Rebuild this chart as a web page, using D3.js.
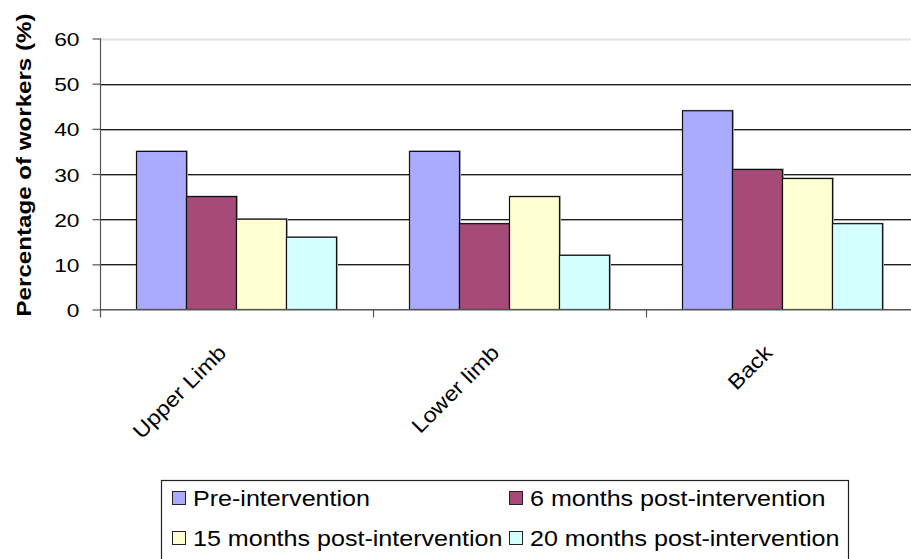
<!DOCTYPE html>
<html>
<head>
<meta charset="utf-8">
<script src="https://cdn.jsdelivr.net/npm/d3@7"></script>
<style>
  html, body { margin: 0; padding: 0; background: #fff; }
  svg { display: block; font-family: "Liberation Sans", Arial, sans-serif; }
</style>
</head>
<body>
<svg id="chart" width="911" height="559"></svg>
<script>
// Musculoskeletal symptoms by body region, before and after the intervention
const categories = ["Upper Limb", "Lower limb", "Back"];
const seriesNames = [
  "Pre-intervention",
  "6 months post-intervention",
  "15 months post-intervention",
  "20 months post-intervention"
];
const preIntervention = [35, 35, 44];
const post6Months = [25, 19, 31];
const post15Months = [20, 25, 29];
const post20Months = [16, 12, 19];
const yTicks = [0, 10, 20, 30, 40, 50, 60];
const seriesColors = ["#AAAAFF", "#A64A77", "#FFFFD4", "#D4FFFF"];

const seriesValues = [preIntervention, post6Months, post15Months, post20Months];

const svg = d3.select("#chart");

const plot = { left: 100, right: 919, top: 38.5, bottom: 309.5 };

const x0 = d3.scaleBand().domain(categories).range([plot.left, plot.right]).padding(0);
const x1 = d3.scaleBand().domain(seriesNames).range([0, x0.bandwidth()])
  .paddingInner(0).paddingOuter(0.73);
const y = d3.scaleLinear().domain([0, 60]).range([plot.bottom, plot.top]);

// horizontal gridlines (dark line with a soft grey shadow beneath)
const grid = svg.append("g");
yTicks.filter(t => t > 0).forEach(t => {
  const yy = Math.round(y(t)) + 0.5;
  if (t === 60) {
    grid.append("line").attr("x1", plot.left).attr("x2", 911)
      .attr("y1", yy).attr("y2", yy).attr("stroke", "#e2e2e2").attr("stroke-width", 2);
  } else {
    grid.append("line").attr("x1", plot.left).attr("x2", 911)
      .attr("y1", yy + 1).attr("y2", yy + 1).attr("stroke", "#a8a8a8").attr("stroke-width", 1);
    grid.append("line").attr("x1", plot.left).attr("x2", 911)
      .attr("y1", yy).attr("y2", yy).attr("stroke", "#1e1e1e").attr("stroke-width", 1);
  }
});

// bars
const groups = svg.append("g").selectAll("g")
  .data(categories)
  .join("g")
  .attr("transform", d => `translate(${x0(d)},0)`);

const barData = (cat, ci) => seriesNames.map((s, si) => ({ series: s, si, value: seriesValues[si][ci] }));

groups.each(function (cat, ci) {
  const g = d3.select(this);
  const data = barData(cat, ci);
  // soft shadow behind each bar
  g.selectAll("rect.shadow").data(data).join("rect")
    .attr("class", "shadow")
    .attr("x", d => x1(d.series) + 1)
    .attr("y", d => y(d.value) - 0.5)
    .attr("width", x1.bandwidth())
    .attr("height", d => y(0) - y(d.value))
    .attr("fill", "none")
    .attr("stroke", "#b0b0b0")
    .attr("stroke-width", 1);
  g.selectAll("rect.bar").data(data).join("rect")
    .attr("class", "bar")
    .attr("x", d => x1(d.series))
    .attr("y", d => y(d.value))
    .attr("width", x1.bandwidth())
    .attr("height", d => y(0) - y(d.value))
    .attr("fill", d => seriesColors[d.si])
    .attr("stroke", "#111")
    .attr("stroke-width", 1.2);
});

// x axis baseline
svg.append("line").attr("x1", plot.left).attr("x2", 911)
  .attr("y1", y(0) + 1).attr("y2", y(0) + 1).attr("stroke", "#a8a8a8");
svg.append("line").attr("x1", plot.left).attr("x2", 911)
  .attr("y1", y(0)).attr("y2", y(0)).attr("stroke", "#555").attr("stroke-width", 1.2);

// category boundary ticks
categories.forEach((c, i) => {
  if (i === 0) return;
  const xx = Math.round(x0(c)) + 0.5;
  svg.append("line").attr("x1", xx).attr("x2", xx)
    .attr("y1", y(0)).attr("y2", y(0) + 8).attr("stroke", "#555").attr("stroke-width", 1.2);
});

// y axis
const yAxis = d3.axisLeft(y).tickValues(yTicks).tickSize(8).tickPadding(12);
const ya = svg.append("g").attr("transform", `translate(${plot.left + 0.5},0)`).call(yAxis);
ya.select(".domain").attr("stroke", "#555").attr("stroke-width", 1.2)
  .attr("d", `M0,${plot.top}V${plot.bottom + 8}`);
ya.selectAll(".tick line").attr("stroke", "#555").attr("stroke-width", 1.2);
ya.selectAll(".tick text")
  .attr("font-size", 19)
  .attr("fill", "#000")
  .attr("x", null)
  .attr("dy", null)
  .attr("text-anchor", "end")
  .attr("transform", "translate(-21,7) scale(1.2,1)");

// y axis title
svg.append("text")
  .attr("transform", "translate(31,165) rotate(-90) scale(1.15,1)")
  .attr("text-anchor", "middle")
  .attr("font-size", 21)
  .attr("font-weight", "bold")
  .text("Percentage of workers (%)");

// category labels
svg.append("g").selectAll("text")
  .data(categories)
  .join("text")
  .attr("transform", d => `translate(${x0(d) + x0.bandwidth() / 2 - 9},354) rotate(-45) scale(1.12,1)`)
  .attr("text-anchor", "end")
  .attr("font-size", 21)
  .text(d => d);

// legend
const legend = svg.append("g");
legend.append("rect")
  .attr("x", 161.5).attr("y", 480.5).attr("width", 687).attr("height", 100)
  .attr("fill", "#fff").attr("stroke", "#222").attr("stroke-width", 1.2);

const legendCols = [172, 509];
const legendRows = [491, 531];
seriesNames.forEach((s, i) => {
  const lx = legendCols[i % 2];
  const ly = legendRows[Math.floor(i / 2)];
  legend.append("rect")
    .attr("x", lx + 0.5).attr("y", ly + 0.5).attr("width", 13).attr("height", 13)
    .attr("fill", seriesColors[i]).attr("stroke", "#222").attr("stroke-width", 1);
  legend.append("text")
    .attr("transform", `translate(${lx + 21},${ly + 14.5}) scale(1.14,1)`)
    .attr("font-size", 22)
    .text(s);
});
</script>
</body>
</html>
